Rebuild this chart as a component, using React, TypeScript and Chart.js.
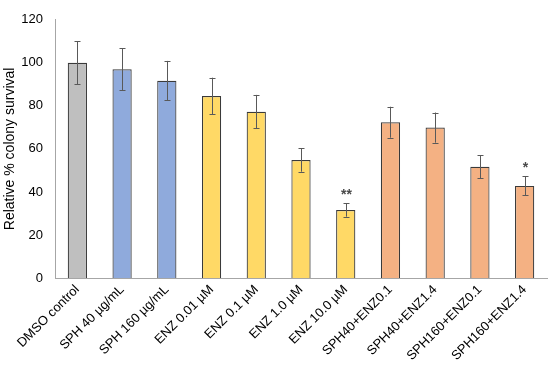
import React, { useEffect, useRef } from "react";
import { Chart, registerables } from "chart.js";

Chart.register(...registerables);

const categories = [
  "DMSO control",
  "SPH 40 µg/mL",
  "SPH 160 µg/mL",
  "ENZ 0.01 µM",
  "ENZ 0.1 µM",
  "ENZ 1.0 µM",
  "ENZ 10.0 µM",
  "SPH40+ENZ0.1",
  "SPH40+ENZ1.4",
  "SPH160+ENZ0.1",
  "SPH160+ENZ1.4",
];
const values = [100, 97, 91.7, 84.6, 77.3, 54.8, 31.6, 72.4, 69.9, 51.7, 42.8];
const errors = [10, 9.7, 9.2, 8.5, 7.8, 5.4, 3.1, 7.2, 7.0, 5.3, 4.4];
const significance = ["", "", "", "", "", "", "**", "", "", "", "*"];
const barColors = [
  "#BFBFBF",
  "#8FAADC",
  "#8FAADC",
  "#FFD966",
  "#FFD966",
  "#FFD966",
  "#FFD966",
  "#F4B183",
  "#F4B183",
  "#F4B183",
  "#F4B183",
];
const yTicks = [0, 20, 40, 60, 80, 100, 120];

const errorBarPlugin = {
  id: "errorBars",
  afterDatasetsDraw(chart: any) {
    const ctx = chart.ctx;
    const meta = chart.getDatasetMeta(0);
    const yScale = chart.scales.y;
    ctx.save();
    ctx.strokeStyle = "#595959";
    ctx.lineWidth = 1;
    meta.data.forEach((bar: any, i: number) => {
      const x = Math.round(bar.x) + 0.5;
      const top = yScale.getPixelForValue(values[i] + errors[i]);
      const bot = yScale.getPixelForValue(values[i] - errors[i]);
      const cap = 3;
      ctx.beginPath();
      ctx.moveTo(x, top);
      ctx.lineTo(x, bot);
      ctx.moveTo(x - cap, Math.round(top) + 0.5);
      ctx.lineTo(x + cap, Math.round(top) + 0.5);
      ctx.moveTo(x - cap, Math.round(bot) + 0.5);
      ctx.lineTo(x + cap, Math.round(bot) + 0.5);
      ctx.stroke();
      if (significance[i]) {
        ctx.fillStyle = "#4a4a4a";
        ctx.font = "bold 14px 'Liberation Sans', Arial, sans-serif";
        ctx.textAlign = "center";
        ctx.textBaseline = "middle";
        ctx.fillText(significance[i], x, top - 8);
      }
    });
    ctx.restore();
  },
};

export default function App() {
  const canvasRef = useRef<HTMLCanvasElement | null>(null);

  useEffect(() => {
    document.body.style.margin = "0";
    const canvas = canvasRef.current;
    if (!canvas) return;
    const font = "'Liberation Sans', Arial, sans-serif";
    const chart = new Chart(canvas, {
      type: "bar",
      data: {
        labels: categories,
        datasets: [
          {
            data: values,
            backgroundColor: barColors,
            borderColor: "#3A3A3A",
            borderWidth: 1.2,
            categoryPercentage: 1,
            barPercentage: 0.43,
          },
        ],
      },
      options: {
        animation: false,
        responsive: false,
        maintainAspectRatio: false,
        layout: { padding: { top: 2, right: 3, left: 0, bottom: 0 } },
        plugins: {
          legend: { display: false },
          tooltip: { enabled: false },
        },
        scales: {
          x: {
            grid: { display: false, drawTicks: false },
            border: { display: true, color: "#A6A6A6", width: 1 },
            ticks: {
              maxRotation: 45,
              minRotation: 45,
              autoSkip: false,
              color: "#000000",
              padding: 4,
              font: { family: font, size: 13 },
            },
            afterFit(scale: any) {
              scale.height = 88;
            },
          },
          y: {
            min: 0,
            max: 120,
            afterBuildTicks(scale: any) {
              scale.ticks = yTicks.map((v) => ({ value: v }));
            },
            grid: { display: false, drawTicks: false },
            border: { display: true, color: "#A6A6A6", width: 1 },
            ticks: {
              color: "#000000",
              padding: 12,
              font: { family: font, size: 13 },
            },
            title: {
              display: true,
              text: "Relative % colony survival",
              color: "#000000",
              font: { family: font, size: 14 },
              padding: { top: 2, bottom: 2 },
            },
            afterFit(scale: any) {
              scale.width = 55;
            },
          },
        },
      },
      plugins: [errorBarPlugin],
    });
    return () => chart.destroy();
  }, []);

  return (
    <div style={{ position: "absolute", left: 0, top: 0, width: 550, height: 366 }}>
      <canvas ref={canvasRef} width={550} height={366} />
    </div>
  );
}
